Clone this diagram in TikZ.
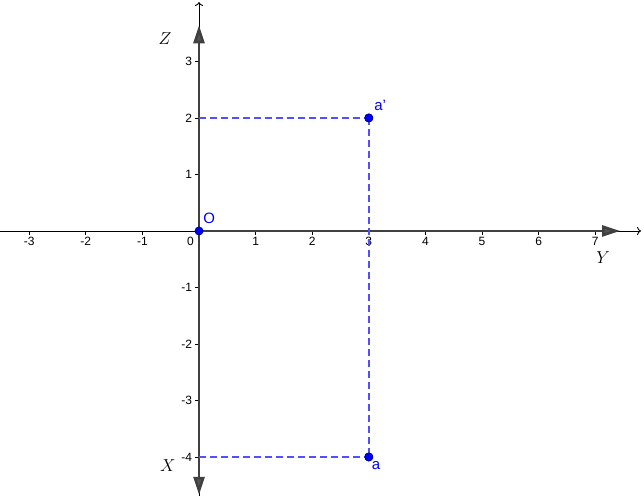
\documentclass[tikz,border=0pt]{standalone}
\usepackage{fontspec}
\setmainfont{Liberation Sans}
\usepackage{tikz}
\usetikzlibrary{arrows.meta,calc}

\definecolor{PointBlue}{RGB}{0,0,255}
\definecolor{DashBlue}{RGB}{80,80,255}
\definecolor{VecGray}{RGB}{64,64,64}

\begin{document}
\begin{tikzpicture} [x=56.6pt, y=56.5pt,
				axis/.style={
				% The line:
				line width=0.9pt,
				draw=black,
				% The tip:
				-{To[length=4pt,width=8pt]}
				},
				vector/.style={
				% The line:
				line width=2.6pt,
				draw=VecGray,
				% The tip:
				-{Triangle[length=18pt,width=11pt,fill=VecGray!90]}
				},
				guide/.style={
				% The line:
				line width=1.7pt,
				draw=DashBlue,
				dash pattern=on 7pt off 4pt
				},
				point/.style={
				% The shape:
				circle,
				% The size:
				minimum size=8pt, inner sep=0pt,
				% The border:
				draw=PointBlue!60!black, line width=0.8pt,
				% The filling:
				fill=PointBlue
				},
				ticklabel/.style={
				font=\fontsize{12}{12}\selectfont, inner sep=1pt
				},
				axislabel/.style={
				font=\fontsize{17}{17}\selectfont
				},
				ptlabel/.style={
				text=PointBlue, font=\fontsize{15}{15}\selectfont, inner sep=1pt
				},
				]
    \useasboundingbox (-3.516,-4.69) rectangle (7.862,4.088);
    \coordinate (O) at (0,0);
    \coordinate (left) at (-3.516,0);
    \coordinate (right) at (7.81,0);
    \coordinate (bottom) at (0,-4.69);
    \coordinate (top) at (0,4.053);
    \coordinate (ytip) at (7.44,0);
    \coordinate (ztip) at (0,3.64);
    \coordinate (xtip) at (0,-4.67);
    % axes
    \draw [axis] (left) -- (right);
    \draw [axis] (bottom) -- (top);
    % ticks on the horizontal axis
    \foreach \i in {-3,-2,-1,1,2,3,4,5,6,7} {
        \draw [line width=0.8pt] (\i,0) -- ++(0,-4pt);
        \node [ticklabel] (ty\i) at (\i,-0.19) {\i};
    }
    % ticks on the vertical axis
    \foreach \i in {-4,-3,-2,-1,1,2,3} {
        \draw [line width=0.8pt] (0,\i) -- ++(-4pt,0);
        \node [ticklabel, anchor=east] (tz\i) at (-0.1,\i) {\i};
    }
    \node [ticklabel, anchor=north east] (t0) at (-0.07,-0.09) {0};
    % vectors
    \draw [vector] (O) -- (ytip);
    \draw [vector] (O) -- (ztip);
    \draw [vector] (O) -- (xtip);
    % axis names
    \node [axislabel] (Z) at (-0.6,3.41) {$Z$};
    \node [axislabel] (X) at (-0.55,-4.15) {$X$};
    \node [axislabel] (Y) at (7.14,-0.48) {$Y$};
    % projections
    \node [point] (a1) at (3,2) {};
    \node [point] (a) at (3,-4) {};
    \coordinate (z2) at (0,2);
    \coordinate (x4) at (0,-4);
    \draw [guide] (z2) -- (a1.center);
    \draw [guide] (a1.center) -- (a.center);
    \draw [guide] (x4) -- (a.center);
    \node [point] at (a1) {};
    \node [point] at (a) {};
    \node [point] (Opt) at (O) {};
    % point names
    \node [ptlabel] (Olab) at (0.18,0.22) {O};
    \node [ptlabel] (a1lab) at (3.2,2.22) {a'};
    \node [ptlabel] (alab) at (3.13,-4.15) {a};
\end{tikzpicture}
\end{document}
